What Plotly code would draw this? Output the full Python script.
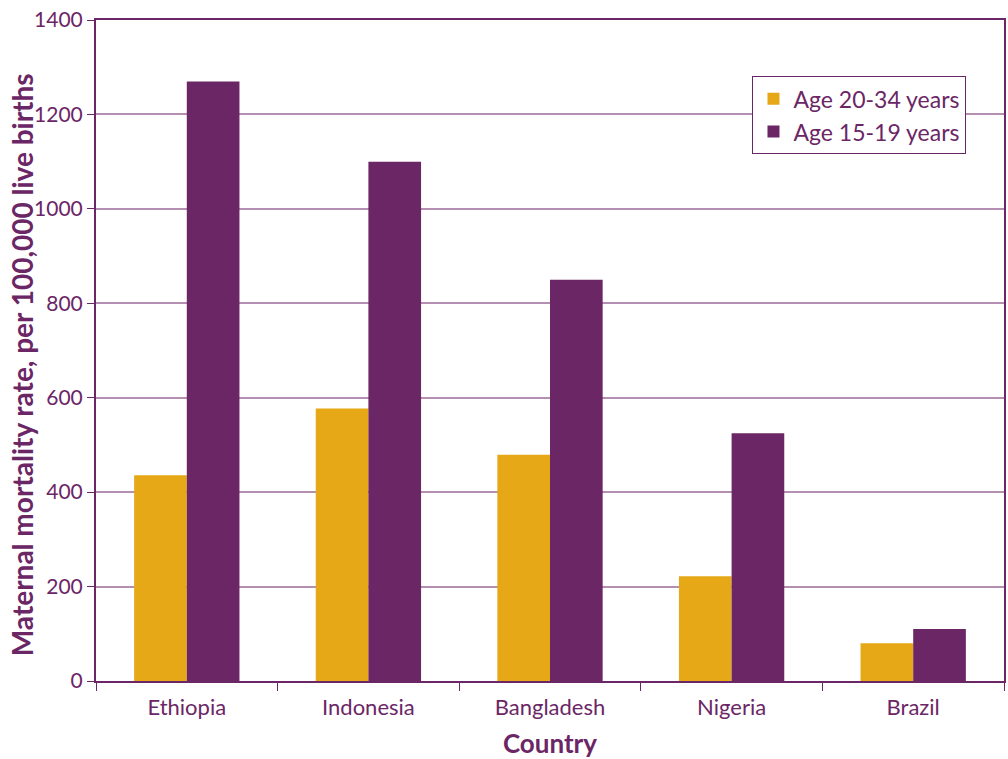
import plotly.graph_objects as go

countries = ["Ethiopia", "Indonesia", "Bangladesh", "Nigeria", "Brazil"]
age_20_34 = [436, 577, 479, 222, 80]
age_15_19 = [1270, 1100, 850, 525, 110]
y_ticks = [0, 200, 400, 600, 800, 1000, 1200, 1400]

PURPLE = "#6B2666"
ORANGE = "#E6A817"
GRID = "#B48FB1"
FONT = "Lato"

fig = go.Figure()
fig.add_trace(go.Bar(x=countries, y=age_20_34, name="Age 20-34 years",
                     marker=dict(color=ORANGE, line=dict(width=0))))
fig.add_trace(go.Bar(x=countries, y=age_15_19, name="Age 15-19 years",
                     marker=dict(color=PURPLE, line=dict(width=0))))

fig.update_layout(
    width=1008, height=759,
    margin=dict(l=96, r=2, t=20, b=78),
    paper_bgcolor="white", plot_bgcolor="white",
    barmode="group", bargap=0.42, bargroupgap=0,
    font=dict(family=FONT, color=PURPLE, size=21),
    legend=dict(x=0.723, y=0.915, xanchor="left", yanchor="top",
                bgcolor="white", bordercolor=PURPLE, borderwidth=1,
                font=dict(size=23, color=PURPLE), tracegroupgap=0,
                itemwidth=30),
    showlegend=True,
    annotations=[dict(
        text="Maternal mortality rate, per 100,000 live births",
        xref="paper", yref="paper", x=-0.0813, y=0.478,
        xanchor="center", yanchor="middle", textangle=-90,
        showarrow=False,
        font=dict(size=28, color=PURPLE, family=FONT, weight="bold"),
    )],
)
fig.update_xaxes(
    showline=True, linecolor=PURPLE, linewidth=2, mirror=True,
    ticks="outside", tickcolor=PURPLE, ticklen=8, tickwidth=1,
    tickson="boundaries", showgrid=False, ticklabelstandoff=6,
    tickfont=dict(size=22, color=PURPLE),
    title=dict(text="<b>Country</b>", font=dict(size=26, color=PURPLE), standoff=16),
)
fig.update_yaxes(
    range=[0, 1400], tickvals=y_ticks,
    showline=True, linecolor=PURPLE, linewidth=2, mirror=True,
    ticks="outside", tickcolor=PURPLE, ticklen=7, tickwidth=1,
    showgrid=True, gridcolor=GRID, gridwidth=1.5,
    tickfont=dict(size=21, color=PURPLE),
    zeroline=False,
)

fig.write_html("out.html")
